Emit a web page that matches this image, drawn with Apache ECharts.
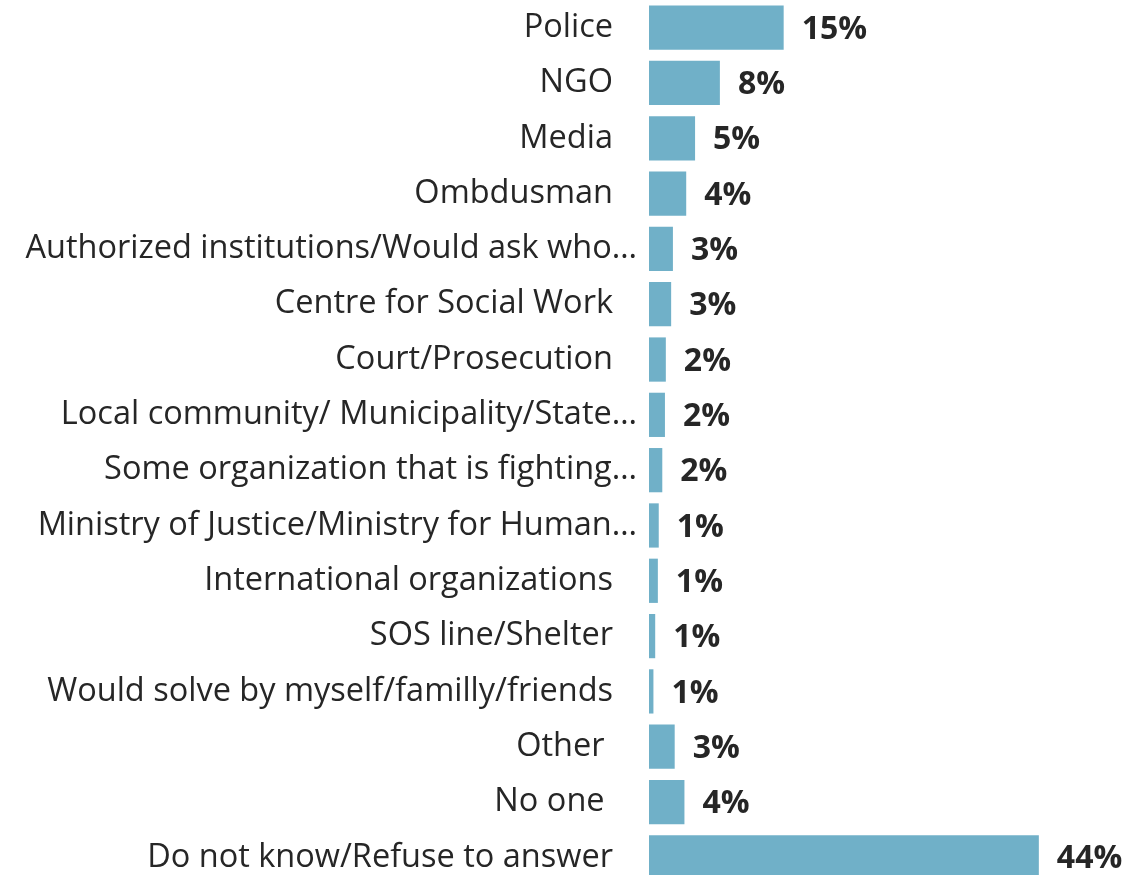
<!DOCTYPE html>
<html>
<head>
<meta charset="utf-8">
<script src="https://cdn.jsdelivr.net/npm/echarts@6/dist/echarts.min.js"></script>
<style>
html,body{margin:0;padding:0;background:#fff;overflow:hidden;}
#chart{width:1126px;height:890px;}
</style>
</head>
<body>
<div id="chart"></div>
<script>
const categories = [
  'Police',
  'NGO',
  'Media',
  'Ombdusman',
  'Authorized institutions/Would ask who…',
  'Centre for Social Work',
  'Court/Prosecution',
  'Local community/ Municipality/State…',
  'Some organization that is fighting…',
  'Ministry of Justice/Ministry for Human…',
  'International organizations',
  'SOS line/Shelter',
  'Would solve by myself/familly/friends',
  'Other ',
  'No one ',
  'Do not know/Refuse to answer'
];
const values = [15.2, 8.0, 5.2, 4.2, 2.7, 2.5, 1.9, 1.8, 1.5, 1.1, 1.0, 0.7, 0.5, 2.9, 4.0, 44];
const valueLabels = ['15%','8%','5%','4%','3%','3%','2%','2%','2%','1%','1%','1%','1%','3%','4%','44%'];
const truncated = [false,false,false,false,true,false,false,true,true,true,false,false,false,false,false,false];

const FONT = 'Open Sans';
const chart = echarts.init(document.getElementById('chart'), null, {renderer: 'canvas'});
chart.setOption({
  animation: false,
  grid: {left: 649, right: 34, top: 0, bottom: 5, containLabel: false},
  xAxis: {
    type: 'value', min: 0, max: 50,
    show: false
  },
  yAxis: {
    type: 'category',
    data: categories,
    inverse: true,
    axisLine: {show: false},
    axisTick: {show: false},
    splitLine: {show: false},
    axisLabel: {
      margin: 12,
      formatter: function (v, i) {
        return (truncated[i] ? '{t|' : '{n|') + v + '}';
      },
      rich: {
        t: {fontFamily: FONT, fontSize: 32.5, color: '#262626'},
        n: {fontFamily: FONT, fontSize: 32.5, color: '#262626', padding: [0, 24, 0, 0]}
      }
    }
  },
  series: [{
    type: 'bar',
    data: values,
    barCategoryGap: '20%',
    itemStyle: {color: '#70B0C8'},
    label: {
      show: true,
      position: 'right',
      distance: 18,
      fontFamily: FONT,
      fontWeight: 'bold',
      fontSize: 32,
      color: '#262626',
      offset: [0, 2],
      formatter: function (p) { return valueLabels[p.dataIndex]; }
    }
  }]
});
</script>
</body>
</html>
